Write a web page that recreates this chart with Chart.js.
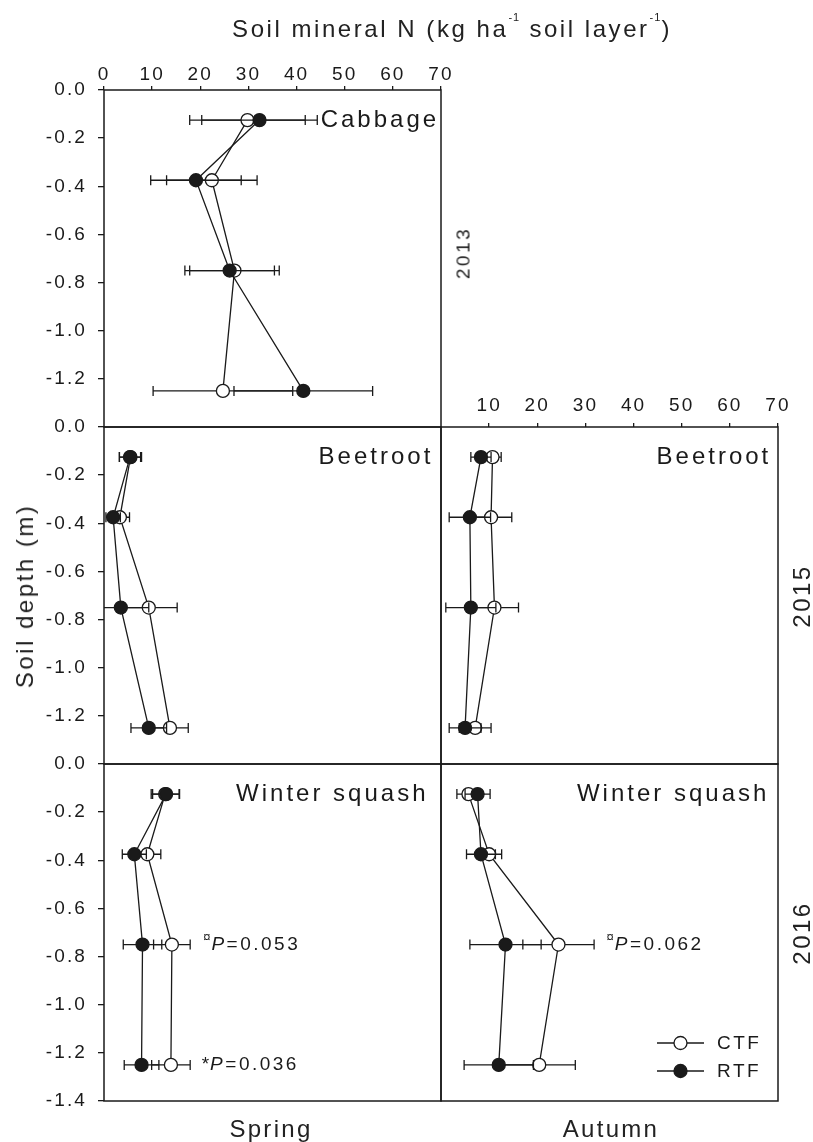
<!DOCTYPE html>
<html>
<head>
<meta charset="utf-8">
<script src="https://cdn.jsdelivr.net/npm/chart.js@4.4.0/dist/chart.umd.min.js"></script>
<style>
  body { margin: 0; background: #fff; }
  #wrap { position: relative; width: 813px; height: 1142px; font-family: 'Liberation Sans', Arial, sans-serif; color: #222; }
  canvas { position: absolute; left: 0; top: 0; }
  .lbl { position: absolute; white-space: nowrap; line-height: 1; }
  .lbl sup { font-size: 11px; vertical-align: 16px; line-height: 0; letter-spacing: 1px; }
  .rot { transform: translate(-50%, -50%) rotate(-90deg); }
  .ctr { transform: translateX(-50%); }
</style>
</head>
<body>
<div id="wrap">
  <canvas id="p13s" width="813" height="1142"></canvas>
  <canvas id="p15s" width="813" height="1142"></canvas>
  <canvas id="p15a" width="813" height="1142"></canvas>
  <canvas id="p16s" width="813" height="1142"></canvas>
  <canvas id="p16a" width="813" height="1142"></canvas>

  <div class="lbl ctr" style="left:452px; top:17px; font-size:24px; letter-spacing:2.55px;">Soil mineral N (kg ha<sup>-1</sup> soil layer<sup>-1</sup>)</div>
  <div class="lbl rot" style="left:25px; top:596px; font-size:24px; letter-spacing:2.5px;">Soil depth (m)</div>
  <div class="lbl rot" style="left:463px; top:253px; font-size:19px; letter-spacing:2.5px;">2013</div>
  <div class="lbl rot" style="left:802px; top:596px; font-size:24px; letter-spacing:2.5px;">2015</div>
  <div class="lbl rot" style="left:802px; top:933px; font-size:24px; letter-spacing:2.5px;">2016</div>
  <div class="lbl ctr" style="left:271px; top:1117px; font-size:24px; letter-spacing:2.3px;">Spring</div>
  <div class="lbl ctr" style="left:611px; top:1117px; font-size:24px; letter-spacing:2.3px;">Autumn</div>
</div>

<script>
// размеры страницы и одной панели
const W = 813, H = 1142, SIDE = 337;
// место под подписи делений
const Y_AXIS_W = 80, X_AXIS_H = 40;

// глубины слоёв (центры) и подписи осей
const depth = [-0.125, -0.375, -0.75, -1.25];
const nTicks = [0, 10, 20, 30, 40, 50, 60, 70];
const nTicksNoZero = [10, 20, 30, 40, 50, 60, 70];
const depthTicks = [0, -0.2, -0.4, -0.6, -0.8, -1.0, -1.2, -1.4];
const depthTicksShort = [0, -0.2, -0.4, -0.6, -0.8, -1.0, -1.2];

// 2013, капуста (весна)
const cabbageCTF = [29.8, 22.4, 27.1, 24.7];
const cabbageCTFse = [12.0, 9.4, 9.3, 14.5];
const cabbageRTF = [32.3, 19.1, 26.1, 41.4];
const cabbageRTFse = [12.0, 9.4, 9.3, 14.4];

// 2015, свёкла
const beetSpringCTF = [5.5, 3.3, 9.3, 13.7];
const beetSpringCTFse = [2.3, 2.0, 5.9, 3.8];
const beetSpringRTF = [5.4, 1.9, 3.5, 9.3];
const beetSpringRTFse = [2.2, 1.5, 5.8, 3.7];
const beetAutumnCTF = [10.7, 10.4, 11.1, 7.1];
const beetAutumnCTFse = [1.8, 4.3, 5.0, 3.3];
const beetAutumnRTF = [8.3, 6.0, 6.2, 5.0];
const beetAutumnRTFse = [2.1, 4.3, 5.2, 3.3];

// 2016, тыква
const squashSpringCTF = [12.7, 9.0, 14.1, 13.9];
const squashSpringCTFse = [2.9, 2.8, 3.8, 4.0];
const squashSpringRTF = [12.9, 6.3, 8.0, 7.8];
const squashSpringRTFse = [2.8, 2.5, 4.0, 3.6];
const squashAutumnCTF = [5.7, 10.0, 24.4, 20.4];
const squashAutumnCTFse = [2.4, 2.6, 7.4, 7.5];
const squashAutumnRTF = [7.6, 8.3, 13.4, 12.0];
const squashAutumnRTFse = [2.6, 3.0, 7.4, 7.2];

// значимость
const squashSpringNotes = [
  { x: 20.6, y: -0.75, mark: '\u00a4', text: '=0.053' },
  { x: 20.3, y: -1.25, mark: '*', text: '=0.036' }
];
const squashAutumnNotes = [
  { x: 34.4, y: -0.75, mark: '\u00a4', text: '=0.062' }
];

const INK = '#1a1a1a';
const FONT = '"Liberation Sans", Arial, sans-serif';

function series(label, xs, se, filled) {
  return {
    label: label,
    data: xs.map((v, i) => ({ x: v, y: depth[i] })),
    errors: se,
    showLine: true,
    borderColor: INK,
    borderWidth: 1.3,
    pointRadius: 6.5,
    pointHoverRadius: 6.5,
    pointBorderWidth: 1.3,
    pointBorderColor: INK,
    pointBackgroundColor: filled ? INK : '#fff',
    backgroundColor: filled ? INK : '#fff',
    order: filled ? 1 : 2,
    clip: false
  };
}

// планки погрешностей рисуются перед каждым набором
const errorBars = {
  id: 'errorBars',
  beforeDatasetDraw(chart, args) {
    const ds = chart.data.datasets[args.index];
    if (!ds.errors) return;
    const ctx = chart.ctx, a = chart.chartArea;
    const x = chart.scales.x, y = chart.scales.y;
    ctx.save();
    ctx.beginPath();
    ctx.rect(a.left, a.top, a.right - a.left, a.bottom - a.top);
    ctx.clip();
    ctx.strokeStyle = INK;
    ctx.lineWidth = 1.3;
    ds.data.forEach((p, i) => {
      const e = ds.errors[i];
      const py = y.getPixelForValue(p.y);
      const x1 = x.getPixelForValue(p.x - e);
      const x2 = x.getPixelForValue(p.x + e);
      ctx.beginPath();
      ctx.moveTo(x1, py); ctx.lineTo(x2, py);
      ctx.moveTo(x1, py - 5); ctx.lineTo(x1, py + 5);
      ctx.moveTo(x2, py - 5); ctx.lineTo(x2, py + 5);
      ctx.stroke();
    });
    ctx.restore();
  }
};

// рамка панели и разрядка букв
const frame = {
  id: 'frame',
  beforeDraw(chart) {
    chart.ctx.letterSpacing = '2.1px';
  },
  beforeDatasetsDraw(chart) {
    const ctx = chart.ctx, a = chart.chartArea;
    ctx.save();
    ctx.strokeStyle = INK;
    ctx.lineWidth = 1.5;
    ctx.strokeRect(a.left, a.top, a.right - a.left, a.bottom - a.top);
    ctx.restore();
  }
};

// подписи культур, P-значения, легенда
const panelText = {
  id: 'panelText',
  afterDatasetsDraw(chart, args, opts) {
    const ctx = chart.ctx, a = chart.chartArea;
    const x = chart.scales.x, y = chart.scales.y;
    ctx.save();
    ctx.fillStyle = INK;
    ctx.textBaseline = 'middle';
    ctx.textAlign = 'right';
    ctx.letterSpacing = '3px';
    ctx.font = '24px ' + FONT;
    ctx.fillText(opts.crop, x.getPixelForValue(opts.cropX), y.getPixelForValue(-0.125));

    ctx.textAlign = 'left';
    ctx.letterSpacing = '2.5px';
    (opts.notes || []).forEach(n => {
      let px = x.getPixelForValue(n.x);
      const py = y.getPixelForValue(n.y);
      if (n.mark === '*') {
        ctx.font = '19px ' + FONT;
        ctx.letterSpacing = '1px';
        ctx.fillText(n.mark, px, py);
      } else {
        ctx.font = '13px ' + FONT;
        ctx.letterSpacing = '1px';
        ctx.fillText(n.mark, px, py - 7);
      }
      px += ctx.measureText(n.mark).width;
      ctx.letterSpacing = '2.5px';
      ctx.font = 'italic 19px ' + FONT;
      ctx.fillText('P', px, py);
      px += ctx.measureText('P').width;
      ctx.font = '19px ' + FONT;
      ctx.fillText(n.text, px, py);
    });

    if (opts.legend) {
      const ds = chart.data.datasets;
      [[ds[0], a.bottom - 58], [ds[1], a.bottom - 30]].forEach(([d, ly]) => {
        ctx.strokeStyle = INK;
        ctx.lineWidth = 1.3;
        ctx.beginPath();
        ctx.moveTo(a.right - 121, ly); ctx.lineTo(a.right - 74, ly);
        ctx.stroke();
        ctx.beginPath();
        ctx.arc(a.right - 97.5, ly, 6.5, 0, Math.PI * 2);
        ctx.fillStyle = d.pointBackgroundColor;
        ctx.fill();
        ctx.stroke();
        ctx.fillStyle = INK;
        ctx.font = '19px ' + FONT;
        ctx.letterSpacing = '2.5px';
        ctx.fillText(d.label, a.right - 61, ly + 1);
      });
    }
    ctx.restore();
  }
};

function xScale(ticksList, pad) {
  const show = ticksList.length > 0;
  return {
    type: 'linear', position: 'top', min: 0, max: 70,
    display: show,
    afterFit: s => { s.height = show ? X_AXIS_H : 0; },
    afterBuildTicks: s => { s.ticks = ticksList.map(v => ({ value: v })); },
    grid: { drawOnChartArea: false, tickLength: 4, color: INK, lineWidth: 1.3 },
    border: { display: false },
    ticks: { padding: pad, maxRotation: 0, autoSkip: false, color: INK, font: { family: FONT, size: 19 } }
  };
}

function yScale(ticksList) {
  const show = ticksList.length > 0;
  return {
    type: 'linear', position: 'left', min: -1.4, max: 0,
    display: show,
    afterFit: s => { s.width = show ? Y_AXIS_W : 0; },
    afterBuildTicks: s => { s.ticks = ticksList.map(v => ({ value: v })); },
    grid: { drawOnChartArea: false, tickLength: 6, color: INK, lineWidth: 1.3 },
    border: { display: false },
    ticks: { padding: 11, color: INK, font: { family: FONT, size: 19 }, callback: v => v.toFixed(1) }
  };
}

function makePanel(id, left, top, ctf, ctfSe, rtf, rtfSe, xTicks, xPad, yTicks, text) {
  const padLeft = yTicks.length ? left - Y_AXIS_W : left;
  const padTop = xTicks.length ? top - X_AXIS_H : top;
  return new Chart(document.getElementById(id), {
    type: 'scatter',
    data: {
      datasets: [series('CTF', ctf, ctfSe, false), series('RTF', rtf, rtfSe, true)]
    },
    options: {
      responsive: false,
      animation: false,
      events: [],
      layout: { padding: { left: padLeft, top: padTop, right: W - left - SIDE, bottom: H - top - SIDE } },
      plugins: { legend: { display: false }, tooltip: { enabled: false }, panelText: text },
      scales: { x: xScale(xTicks, xPad), y: yScale(yTicks) }
    },
    plugins: [frame, errorBars, panelText]
  });
}

makePanel('p13s', 104, 90, cabbageCTF, cabbageCTFse, cabbageRTF, cabbageRTFse,
  nTicks, 0, depthTicksShort, { crop: 'Cabbage', cropX: 69.6 });
makePanel('p15s', 104, 427, beetSpringCTF, beetSpringCTFse, beetSpringRTF, beetSpringRTFse,
  [], 0, depthTicksShort, { crop: 'Beetroot', cropX: 68.4 });
makePanel('p15a', 441, 427, beetAutumnCTF, beetAutumnCTFse, beetAutumnRTF, beetAutumnRTFse,
  nTicksNoZero, 6, [], { crop: 'Beetroot', cropX: 68.6 });
makePanel('p16s', 104, 764, squashSpringCTF, squashSpringCTFse, squashSpringRTF, squashSpringRTFse,
  [], 0, depthTicks, { crop: 'Winter squash', cropX: 67.4, notes: squashSpringNotes });
makePanel('p16a', 441, 764, squashAutumnCTF, squashAutumnCTFse, squashAutumnRTF, squashAutumnRTFse,
  [], 0, [], { crop: 'Winter squash', cropX: 68.2, notes: squashAutumnNotes, legend: true });
</script>
</body>
</html>
